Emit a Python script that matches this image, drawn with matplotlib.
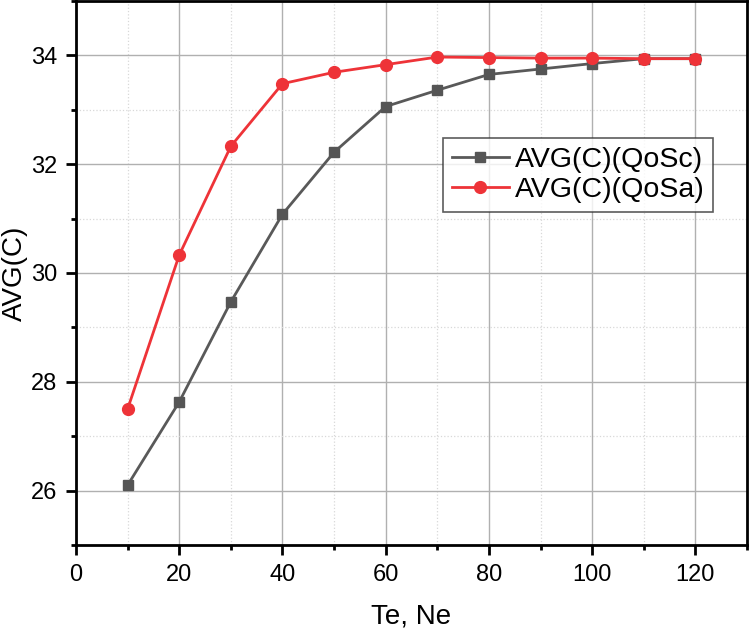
import numpy as np
import matplotlib
matplotlib.use('Agg')
import matplotlib.pyplot as plt
from matplotlib.ticker import MultipleLocator

plt.rcParams['font.family'] = ['Liberation Sans', 'DejaVu Sans']

# Datos
te_ne = [10, 20, 30, 40, 50, 60, 70, 80, 90, 100, 110, 120]
avg_qosc = [26.10, 27.63, 29.47, 31.08, 32.22, 33.06, 33.36, 33.65, 33.75, 33.85, 33.94, 33.94]
avg_qosa = [27.50, 30.33, 32.33, 33.48, 33.69, 33.83, 33.97, 33.96, 33.95, 33.95, 33.94, 33.94]

fig = plt.figure(figsize=(7.5, 6.29), dpi=100)
ax = fig.add_axes([76 / 750, 1 - 545 / 629, (747 - 76) / 750, (545 - 1) / 629])

ax.plot(te_ne, avg_qosc, color='#595959', marker='s', markersize=7.5, linewidth=2,
        markerfacecolor='#555555', markeredgecolor='#555555', label='AVG(C)(QoSc)')
ax.plot(te_ne, avg_qosa, color='#EE3338', marker='o', markersize=8.5, linewidth=2,
        markerfacecolor='#EE3338', markeredgecolor='#EE3338', label='AVG(C)(QoSa)')

ax.set_xlim(0, 130)
ax.set_ylim(25, 35)
ax.xaxis.set_minor_locator(MultipleLocator(10))
ax.yaxis.set_minor_locator(MultipleLocator(1))
ax.set_xticks([0, 20, 40, 60, 80, 100, 120])
ax.set_yticks([26, 28, 30, 32, 34])

ax.grid(True, which='major', color='#b0b0b0', linewidth=1)
ax.grid(True, which='minor', color='#d8d8d8', linestyle=':', linewidth=0.9)
ax.set_axisbelow(True)

for s in ax.spines.values():
    s.set_linewidth(2)
ax.tick_params(which='major', direction='out', length=7.5, width=2, labelsize=17, pad=6)
ax.tick_params(which='minor', direction='out', length=3.8, width=2)

ax.set_xlabel('Te, Ne', fontsize=20, labelpad=12.5)
ax.set_ylabel('AVG(C)', fontsize=20)
ax.yaxis.set_label_coords(-0.072, 0.5)

leg = ax.legend(loc='upper left', bbox_to_anchor=(0.547, 0.748), fontsize=20.5,
                frameon=True, fancybox=False, edgecolor='#333333',
                handlelength=2.0, borderpad=0.31, borderaxespad=0,
                labelspacing=0.14, handletextpad=0.2)
leg.get_frame().set_linewidth(1.2)

plt.savefig('out.png', dpi=100)
